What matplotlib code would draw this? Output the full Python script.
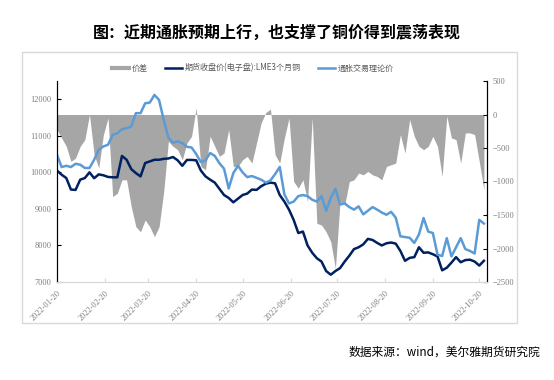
import matplotlib.pyplot as plt
import matplotlib.dates as mdates
from matplotlib.lines import Line2D
from matplotlib.patches import Rectangle
import pandas as pd

plt.rcParams['font.family'] = ['Noto Sans CJK SC', 'DejaVu Sans']

# 数据（每3天取一个点，从图上读出）
dates = pd.date_range('2022-01-20', periods=93, freq='3D')

lme_close = [10050, 9935, 9845, 9530, 9520, 9800, 9845, 10000, 9840, 9945, 9920, 9875,
             9865, 9865, 10450, 10345, 10090, 9980, 9890, 10255, 10300, 10345, 10345, 10370,
             10380, 10420, 10330, 10180, 10340, 10340, 10330, 10050, 9890, 9800, 9720, 9550,
             9380, 9300, 9180, 9280, 9380, 9420, 9530, 9520, 9620, 9690,
             9720, 9700, 9380, 9200, 8980, 8700, 8340, 8380, 8000, 7800, 7650, 7560,
             7300, 7200, 7300, 7380, 7560, 7720, 7900, 7950, 8030, 8180,
             8150, 8070, 8000, 8060, 8080, 8050, 7850, 7580, 7660, 7680, 7950, 7800,
             7810, 7760, 7700, 7320, 7390, 7530, 7680, 7540, 7600, 7610, 7560, 7450, 7580]

theory = [10480, 10145, 10180, 10145, 10235, 10210, 10120, 10120, 10345, 10620, 10710, 10755,
          11030, 11070, 11180, 11210, 11255, 11620, 11620, 11890, 11910, 12120, 11980, 11435,
          10950, 10810, 10850, 10800, 10700, 10680, 10500, 10280, 10330, 10530, 10450, 10250,
          10100, 9560, 9980, 10180, 10000, 9870, 9900, 9850, 9800, 9720,
          9780, 9950, 10150, 9400, 9150, 9200, 9350, 9380, 9350, 9250, 9200, 9350,
          8950, 9300, 9550, 9120, 9150, 9050, 8980, 9070, 8850, 8950,
          9050, 8980, 8900, 8840, 8920, 8760, 8250, 8230, 8210, 8070, 8300, 8750,
          8380, 8340, 7750, 7710, 8200, 7700, 7950, 8200, 7900, 7850, 7780, 8700, 8600]

spread = [-225, -350, -475, -700, -650, -475, -375, 0, -600, -800, -300, -50,
          -1225, -1175, -975, -975, -1375, -1675, -1750, -1575, -1675, -1825, -1675, -1150,
          -400, -475, -525, -675, -425, -325, 100, -775, -825, -325, -475, -625,
          -575, -225, -775, -775, -675, -625, -725, -425, -125, 30,
          80, -600, -725, -350, -50, -1000, -1100, -975, -1300, -50, -1625, -1650,
          -1750, -1900, -2300, -1300, -1350, -1000, -975, -875, -900, -850,
          -900, -925, -975, -775, -750, -725, -300, -575, -75, -325, -475, -525,
          -475, -325, -475, -925, -25, -350, -375, -725, -275, -275, -300, -700, -1125]

tick_dates = ['2022-01-20', '2022-02-20', '2022-03-20', '2022-04-20', '2022-05-20',
              '2022-06-20', '2022-07-20', '2022-08-20', '2022-09-20', '2022-10-20']

c_gray = '#a6a6a6'
c_dark = '#002060'
c_light = '#5b9bd5'
c_tick = '#7f7f7f'

fig = plt.figure(figsize=(5.54, 3.8), dpi=100)
ax = fig.add_axes([57 / 554, 1 - 282 / 380, 430 / 554, 201 / 380])
ax2 = ax.twinx()

ax2.fill_between(dates, 0, spread, color=c_gray, lw=0)
ax.plot(dates, lme_close, color=c_dark, lw=1.8)
ax.plot(dates, theory, color=c_light, lw=1.8)

ax.set_zorder(ax2.get_zorder() + 1)
ax.patch.set_visible(False)

ax.set_xlim(pd.Timestamp('2022-01-20'), pd.Timestamp('2022-10-25'))
ax.set_ylim(7000, 12500)
ax.set_yticks(range(7000, 12001, 1000))
ax2.set_ylim(-2500, 500)
ax2.set_yticks(range(-2500, 501, 500))

ax.set_xticks(pd.to_datetime(tick_dates))
ax.xaxis.set_major_formatter(mdates.DateFormatter('%Y-%m-%d'))
for lab in ax.get_xticklabels():
    lab.set_rotation(45)
    lab.set_ha('right')
    lab.set_rotation_mode('anchor')

for a in (ax, ax2):
    a.spines['top'].set_visible(False)
    a.spines['bottom'].set_color('#d9d9d9')
    a.spines['left'].set_color('black')
    a.spines['right'].set_color('black')
    a.tick_params(axis='y', direction='in', length=3, width=0.8, colors='black',
                  labelcolor=c_tick, labelsize=6, pad=4)
    a.tick_params(axis='x', direction='in', length=3, color='#d9d9d9',
                  labelcolor=c_tick, labelsize=6, pad=5)
    for lab in a.get_yticklabels():
        lab.set_family('Liberation Serif')
for lab in ax.get_xticklabels():
    lab.set_family('Liberation Serif')

handles = [Line2D([], [], color=c_gray, lw=3),
           Line2D([], [], color=c_dark, lw=1.8),
           Line2D([], [], color=c_light, lw=1.8)]
labels = ['价差', '期货收盘价(电子盘):LME3个月铜', '通胀交易理论价']
fig.legend(handles, labels, loc='center', bbox_to_anchor=(253 / 554, 1 - 68 / 380),
           ncol=3, frameon=False, fontsize=5.8, handlelength=2.1, handletextpad=0.3,
           columnspacing=2.2, labelcolor='#595959')

fig.text(0.5, 1 - 33 / 380, '图：近期通胀预期上行，也支撑了铜价得到震荡表现',
         ha='center', va='center', fontsize=11.5, fontweight='bold')

fig.patches.append(Rectangle((22 / 554, 1 - 323 / 380), 495 / 554, 271 / 380,
                             transform=fig.transFigure, fill=False,
                             ec='#d9d9d9', lw=1))

fig.text(540 / 554, 1 - 352 / 380, '数据来源：wind，美尔雅期货研究院',
         ha='right', va='center', fontsize=8.5)

fig.savefig('out.png', dpi=100)
